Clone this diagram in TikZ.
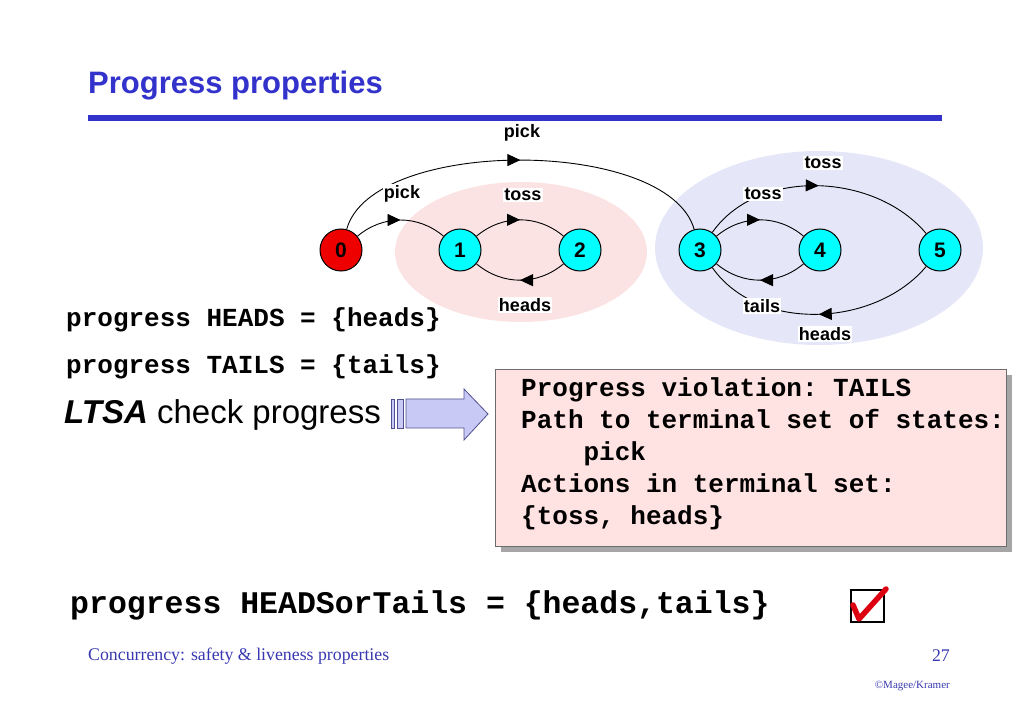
\documentclass[tikz,border=0pt]{standalone}
\usepackage{fontspec}
\setmainfont{Liberation Serif}
\setsansfont{Liberation Sans}
\setmonofont{Liberation Mono}
\usetikzlibrary{arrows.meta,decorations.markings,shadows}
\definecolor{titleblue}{HTML}{3333CC}
\definecolor{footblue}{HTML}{3838B0}
\definecolor{pinkbg}{HTML}{FCE3E3}
\definecolor{bluebg}{HTML}{E6E6F9}
\definecolor{boxpink}{HTML}{FFE2E2}
\definecolor{arrowfill}{HTML}{C9C9F5}
\definecolor{arrowline}{HTML}{505090}
\definecolor{statecyan}{HTML}{00FFFF}
\definecolor{statered}{HTML}{EE0000}
\definecolor{checkred}{HTML}{DD0011}
\begin{document}
\begin{tikzpicture}[x=1pt,y=1pt,
  state/.style={circle,draw=black,line width=1pt,minimum size=42pt,inner sep=0pt,fill=statecyan,
    font=\sffamily\bfseries\fontsize{21}{21}\selectfont},
  edge/.style={line width=0.9pt,draw=black,
    postaction={decorate,decoration={markings,mark=at position 0.5 with {\arrow{Triangle[length=13pt,width=12pt]}}}}},
  lbl/.style={fill=white,inner sep=1.2pt,font=\sffamily\bfseries\fontsize{18}{18}\selectfont},
  mono/.style={font=\ttfamily\bfseries\fontsize{26}{32}\selectfont},
  arrowdraw/.style={draw=arrowline,fill=arrowfill,line width=0.8pt}
]
\useasboundingbox (0,0) rectangle (1023,-708);
% title
\node[anchor=west,inner sep=0,text=titleblue,font=\sffamily\bfseries\fontsize{31}{31}\selectfont] (title) at (88,-86) {Progress properties};
\fill[titleblue] (88,-115) rectangle (942,-121);
% background ellipses
\fill[pinkbg] (521,-252) ellipse [x radius=126, y radius=70];
\fill[bluebg] (819,-248) ellipse [x radius=164, y radius=97];
% states
\node[state,fill=statered] (n0) at (341,-250) {0};
\node[state] (n1) at (460,-250) {1};
\node[state] (n2) at (580,-250) {2};
\node[state] (n3) at (700,-250) {3};
\node[state] (n4) at (820,-250) {4};
\node[state] (n5) at (940,-250) {5};
% edges
\draw[edge] (n0) .. controls (372,-137) and (668,-137) .. (n3);
\draw[edge] (n0) to[out=40,in=140] (n1);
\draw[edge] (n1) to[out=40,in=140] (n2);
\draw[edge] (n2) to[out=-140,in=-40] (n1);
\draw[edge] (n3) to[out=40,in=140] (n4);
\draw[edge] (n4) to[out=-140,in=-40] (n3);
\draw[edge] (n3) to[out=55,in=130,looseness=0.95] (n5);
\draw[edge] (n5) to[out=-130,in=-55,looseness=0.95] (n3);
% labels
\node[lbl] (l03) at (522,-133) {pick};
\node[lbl] (l01) at (402,-194) {pick};
\node[lbl] (l12) at (523,-195) {toss};
\node[lbl] (l21) at (525,-305) {heads};
\node[lbl] (l34) at (763,-194) {toss};
\node[lbl] (l35) at (823,-163) {toss};
\node[lbl] (l43) at (762,-306) {tails};
\node[lbl] (l53) at (825,-334) {heads};
% progress text
\node[mono,anchor=west,inner sep=0] (ph) at (66,-320) {progress HEADS = \{heads\}};
\node[mono,anchor=west,inner sep=0] (pt) at (66,-367) {progress TAILS = \{tails\}};
\node[anchor=west,inner sep=0,font=\sffamily\fontsize{33}{33}\selectfont] (ltsa) at (64,-415) {\textbf{\textit{LTSA}} check progress};
% block arrow
\draw[arrowdraw] (391,-399) rectangle (394,-428);
\draw[arrowdraw] (397,-399) rectangle (403,-428);
\draw[arrowdraw] (406,-399) -- (464,-399) -- (464,-389) -- (488,-414) -- (464,-440) -- (464,-428) -- (406,-428) -- cycle;
% output box
\node[draw=gray!85!black,line width=0.8pt,fill=boxpink,minimum width=511pt,minimum height=177pt,anchor=north west,inner sep=0,
  drop shadow={shadow xshift=6pt,shadow yshift=-6pt,fill=gray!70,opacity=1}] (outbox) at (495,-369) {};
\node[mono,anchor=north west,align=left,inner sep=0] (outtxt) at (521,-377)
  {Progress violation: TAILS\\Path to terminal set of states:\\\hspace*{4\fontcharwd\font`\ }pick\\Actions in terminal set:\\\{toss, heads\}};
% bottom line
\node[anchor=west,inner sep=0,font=\ttfamily\bfseries\fontsize{31.5}{31.5}\selectfont] (phort) at (70,-605) {progress HEADSorTails = \{heads,tails\}};
% checkbox
\draw[line width=2pt] (851,-590) rectangle (884,-622);
\draw[checkred,line width=5.5pt,line join=round,line cap=round] (853,-605) -- (859,-619) -- (886,-589);
% footer
\node[anchor=west,inner sep=0,text=footblue,font=\rmfamily\fontsize{17.8}{17.8}\selectfont] (foot) at (88,-656) {Concurrency: safety \& liveness properties};
\node[anchor=east,inner sep=0,text=footblue,font=\rmfamily\fontsize{17.8}{17.8}\selectfont] (page) at (950,-656) {27};
\node[anchor=east,inner sep=0,text=footblue,font=\rmfamily\fontsize{11}{11}\selectfont] (copy) at (950,-686) {©Magee/Kramer};
\end{tikzpicture}
\end{document}
